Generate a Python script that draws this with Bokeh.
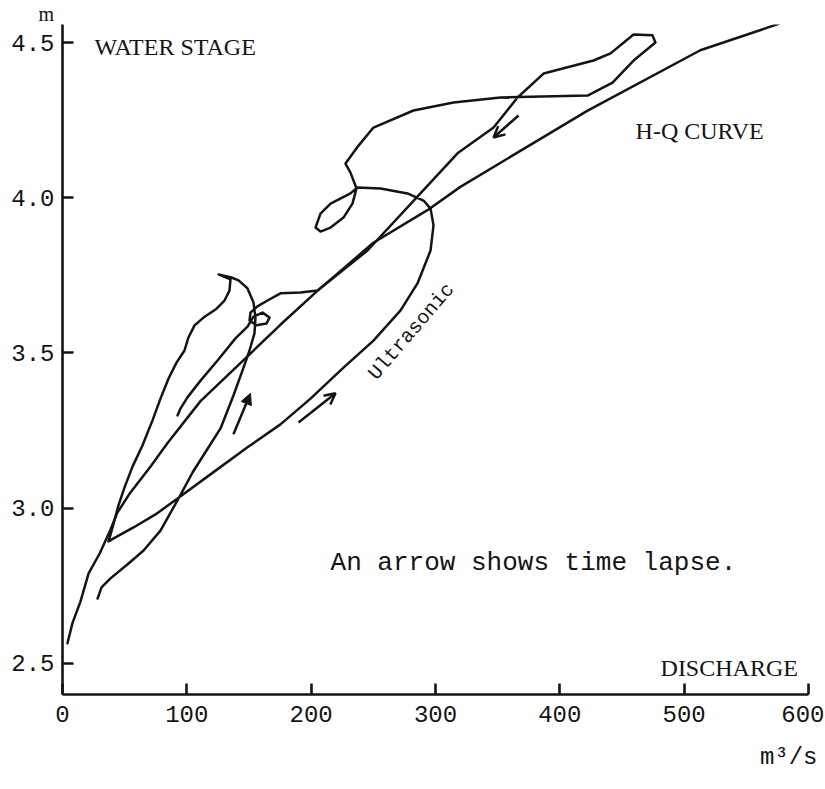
from bokeh.plotting import figure
from bokeh.models import (Range1d, FixedTicker, Label, Arrow, NormalHead, OpenHead,
                          ColumnDataSource, PrintfTickFormatter, Title)
from bokeh.embed import file_html
from bokeh.resources import INLINE

# ---- data (discharge Q in m3/s, water stage H in m) ----
x_ticks = [0, 100, 200, 300, 400, 500, 600]
y_ticks = [2.5, 3.0, 3.5, 4.0, 4.5]

# H-Q rating curve
hq_q = [4, 8, 14.5, 21, 30, 38.5, 44, 54.5, 71, 84.5, 111, 149, 175, 205,
        250, 293.5, 320, 422, 513, 576]
hq_h = [2.565, 2.63, 2.70, 2.79, 2.855, 2.93, 2.985, 3.05, 3.135, 3.21, 3.345,
        3.49, 3.59, 3.70, 3.855, 3.96, 4.035, 4.28, 4.475, 4.56]

# Ultrasonic measurement (time-ordered loop)
us_q = [28.2, 31.4, 38.6, 53.1, 65.2, 78.8, 93.3, 104.6, 115.8, 127.1, 137.5,
        144.8, 150.4, 154.4, 155.2, 153.6, 148.8, 141.6, 135.9, 125.5, 135.1,
        134.3, 130.3, 123.1, 113.4, 106.2, 101.3, 98.1, 91.7, 85.3, 78.8, 72.4,
        64.3, 56.3, 49.9, 45.0, 41.8, 38.6, 37.0,
        42.6, 57.1, 74.8, 92.5, 119.0, 148.8, 175.3, 199.5, 226.0, 250.1, 271.9,
        285.5, 296.0, 298.4, 296.0, 290.4, 277.5, 255.8, 237.3,
        231.6, 215.6, 207.5, 203.5, 207.5, 215.6, 226.0, 233.2, 236.5,
        231.6, 227.6, 238.1, 250.1, 282.3, 314.5, 352.3, 422.3, 442.4, 459.3,
        476.9, 474.5, 459.3, 440.8, 427.1, 386.9, 366.0, 346.7, 317.7, 287.9,
        245.3, 205.1,
        191.4, 175.3, 164.9, 156.8, 151.2, 150.4, 156.0, 164.1, 166.5, 160.9,
        153.6, 148.8, 139.1, 124.7, 111.0, 100.5, 94.9, 92.5]
us_h = [2.709, 2.745, 2.774, 2.822, 2.864, 2.928, 3.031, 3.115, 3.186, 3.257,
        3.363, 3.444, 3.508, 3.563, 3.614, 3.663, 3.708, 3.734, 3.743, 3.753,
        3.737,
        3.701, 3.669, 3.640, 3.614, 3.589, 3.550, 3.508, 3.469, 3.418, 3.353,
        3.283, 3.202, 3.134, 3.067, 3.009, 2.961, 2.915, 2.893,
        2.906, 2.938, 2.980, 3.031, 3.109, 3.196, 3.270, 3.353, 3.453, 3.540,
        3.637, 3.724, 3.830, 3.911, 3.965, 3.991, 4.014, 4.030, 4.033,
        4.014, 3.981, 3.949, 3.904, 3.891, 3.904, 3.936, 3.981, 4.030,
        4.081, 4.110, 4.168, 4.226, 4.281, 4.307, 4.323, 4.329, 4.371, 4.442,
        4.500, 4.523, 4.526, 4.465, 4.442, 4.400, 4.323, 4.226, 4.143, 4.014,
        3.830, 3.701,
        3.695, 3.692, 3.669, 3.650, 3.630, 3.605, 3.589, 3.595, 3.614, 3.630,
        3.617, 3.585, 3.547, 3.476, 3.411, 3.357, 3.321, 3.299]

# time-lapse arrows
arrow_q0 = [137.5, 189.8, 366.8]
arrow_h0 = [3.238, 3.276, 4.265]
arrow_q1 = [151.2, 219.6, 346.7]
arrow_h1 = [3.370, 3.370, 4.194]

INK = "#141414"
MONO = "Liberation Mono"
SERIF = "Liberation Serif"

p = figure(width=824, height=788, x_range=Range1d(0, 600), y_range=Range1d(2.4, 4.558),
           output_backend="svg", toolbar_location=None,
           min_border_left=62, min_border_right=16, min_border_top=24, min_border_bottom=94)
p.outline_line_color = None
p.grid.visible = False
p.background_fill_color = "white"
p.border_fill_color = "white"

# unit of the stage axis, shown above the top of the axis
p.add_layout(Title(text="m", align="left", offset=-24, standoff=0,
                   text_font=SERIF, text_font_size="20px", text_font_style="normal",
                   text_color=INK), "above")

for ax in (p.xaxis[0], p.yaxis[0]):
    ax.axis_line_width = 2.6
    ax.axis_line_color = INK
    ax.major_tick_line_width = 2.6
    ax.major_tick_line_color = INK
    ax.major_tick_in = 11
    ax.major_tick_out = 0
    ax.minor_tick_in = 0
    ax.minor_tick_out = 0
    ax.major_label_text_font = MONO
    ax.major_label_text_font_size = "24px"
    ax.major_label_text_color = INK

p.xaxis.ticker = FixedTicker(ticks=x_ticks)
p.yaxis.ticker = FixedTicker(ticks=y_ticks)
p.yaxis.formatter = PrintfTickFormatter(format="%.1f")
p.xaxis.major_label_standoff = 11
p.yaxis.major_label_standoff = 8

# unit of the discharge axis, below the right end of the axis
p.add_layout(Title(text="m³/s", align="right", offset=-9, standoff=35,
                   text_font=MONO, text_font_size="24px", text_font_style="normal",
                   text_color=INK), "below")

p.line(hq_q, hq_h, line_width=2.5, line_color=INK, line_join="round", line_cap="round")
p.line(us_q, us_h, line_width=2.5, line_color=INK, line_join="round", line_cap="round")

src = ColumnDataSource(dict(x0=arrow_q0[:1], y0=arrow_h0[:1], x1=arrow_q1[:1], y1=arrow_h1[:1]))
p.add_layout(Arrow(end=NormalHead(size=11, fill_color=INK, line_color=INK, line_width=1),
                   x_start="x0", y_start="y0", x_end="x1", y_end="y1", source=src,
                   line_width=2.5, line_color=INK))
src2 = ColumnDataSource(dict(x0=arrow_q0[1:], y0=arrow_h0[1:], x1=arrow_q1[1:], y1=arrow_h1[1:]))
p.add_layout(Arrow(end=OpenHead(size=11, line_color=INK, line_width=2.5),
                   x_start="x0", y_start="y0", x_end="x1", y_end="y1", source=src2,
                   line_width=2.5, line_color=INK))

def lab(x, y, text, font, size, **kw):
    p.add_layout(Label(x=x, y=y, text=text, text_font=font, text_font_size=size,
                       text_color=INK, text_baseline=kw.pop("baseline", "alphabetic"), **kw))

lab(25.7, 4.487, "WATER STAGE", SERIF, "24px")
lab(460.9, 4.215, "H-Q CURVE", SERIF, "24px")
lab(481.0, 2.484, "DISCHARGE", SERIF, "24px")
lab(215.6, 2.822, "An arrow shows time lapse.", MONO, "26px")
lab(280.7, 3.569, "Ultrasonic", MONO, "20px", text_align="center", baseline="middle", angle=0.862)

open("out.html", "w").write(file_html(p, INLINE))
